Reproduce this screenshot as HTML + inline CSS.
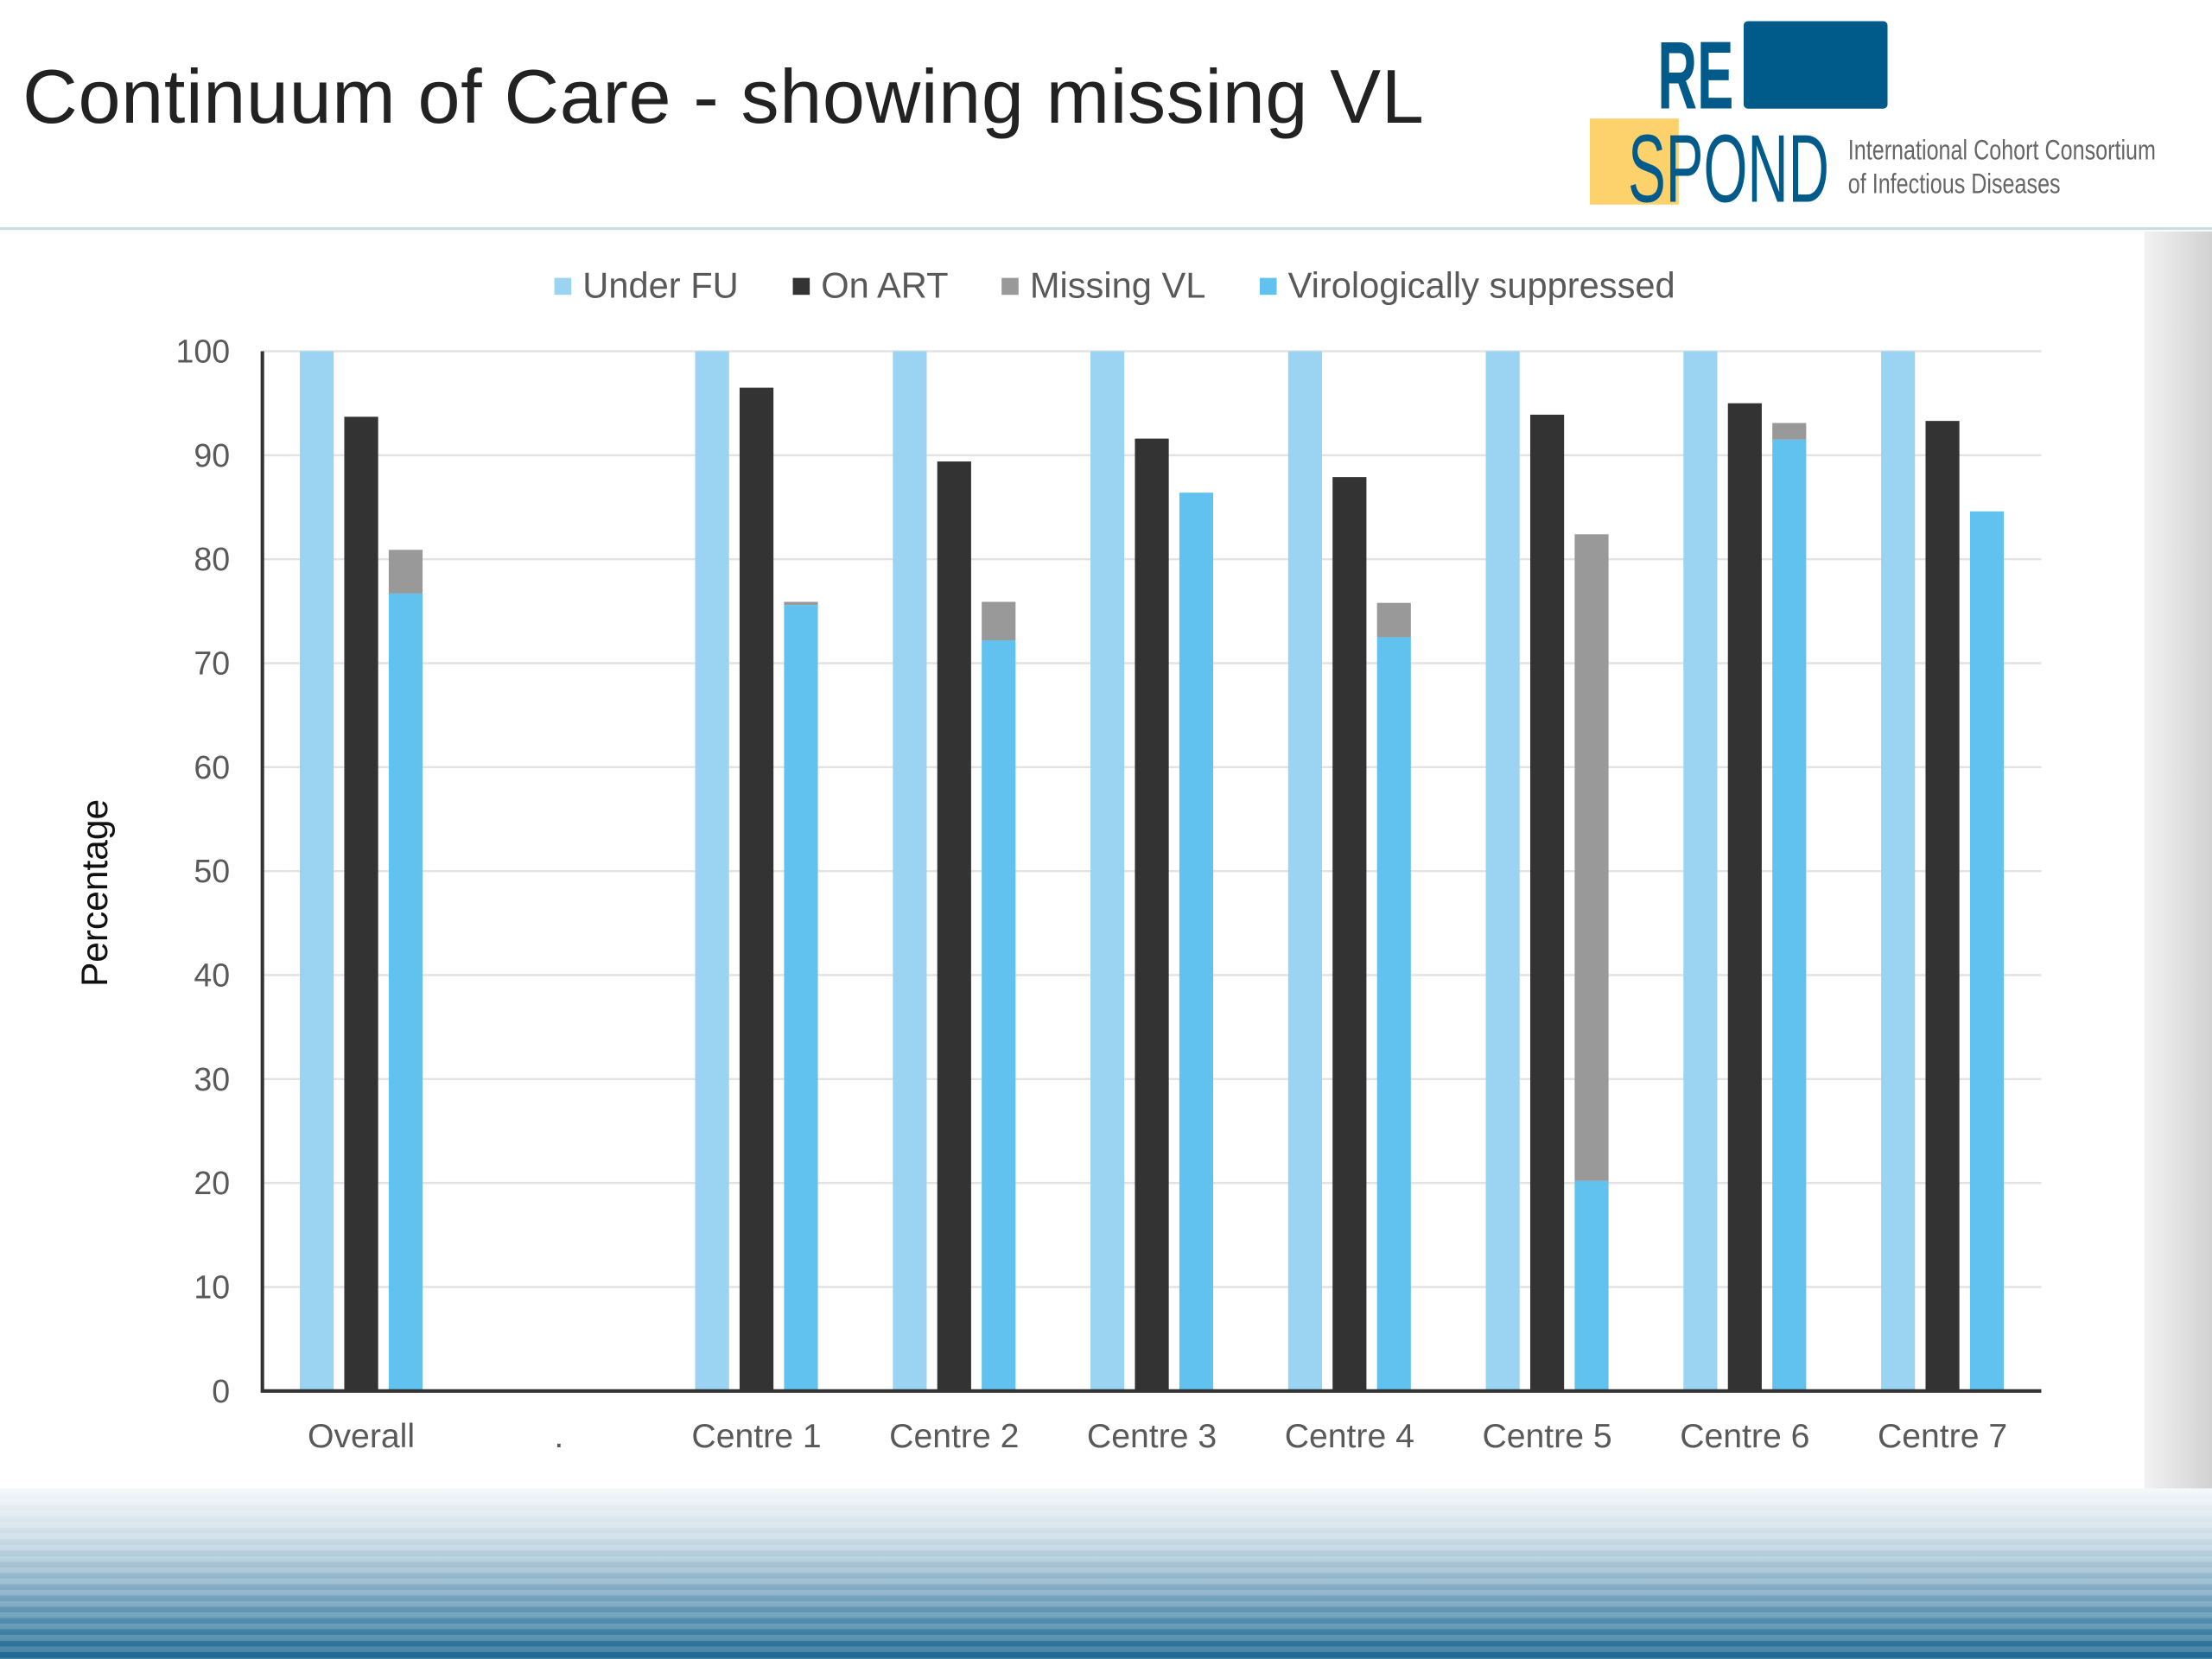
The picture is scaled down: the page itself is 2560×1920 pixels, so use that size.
<!DOCTYPE html>
<html><head><meta charset="utf-8">
<style>
html,body{margin:0;padding:0;background:#fff;overflow:hidden;width:2560px;height:1920px}
#wrap{position:absolute;left:0;top:0;width:1568px;height:1176px;transform:scale(1.632653);transform-origin:0 0;font-family:"Liberation Sans",sans-serif;background:#fff}
#title{position:absolute;left:16px;top:38px;font-size:54px;letter-spacing:0.4px;color:#222;white-space:nowrap}
#hline{position:absolute;left:0;top:161px;width:1568px;height:2px;background:#c9dbe3}
#rstrip{position:absolute;left:1520px;top:164px;width:48px;height:892px;background:linear-gradient(90deg,#f2f2f2,#d2d2d2)}
#band{position:absolute;left:0;top:1055px;width:1568px;height:121px;background:linear-gradient(180deg,#f4f7f9 0%,#c9dbe5 30%,#7fa9c2 60%,#3d7fa3 85%,#1c6690 100%)}
#band:after{content:"";position:absolute;inset:0;background:repeating-linear-gradient(180deg,rgba(255,255,255,0.18) 0 4px,rgba(0,0,0,0) 4px 8px)}
#logo{position:absolute;left:1120px;top:10px;width:440px;height:145px}
</style></head><body>
<div id="wrap">
<div id="title">Continuum of Care - showing missing VL</div>
<svg id="logo" viewBox="1120 10 440 145">
<rect x="1236" y="15" width="102" height="62" rx="3" fill="#005b8a"/>
<text transform="translate(1175,77) scale(0.57,1)" font-family="Liberation Sans,sans-serif" font-weight="bold" font-size="68" fill="#005b8a">RE</text>
<rect x="1127" y="84" width="63" height="61" fill="#fdd16b"/>
<text transform="translate(1154,143) scale(0.59,1)" font-family="Liberation Sans,sans-serif" font-size="68" fill="#005b8a">SPOND</text>
<text transform="translate(1310,113) scale(0.77,1)" font-family="Liberation Sans,sans-serif" font-size="20" fill="#666">International Cohort Consortium</text>
<text transform="translate(1310,137) scale(0.77,1)" font-family="Liberation Sans,sans-serif" font-size="20" fill="#666">of Infectious Diseases</text>
</svg>
<div id="hline"></div>
<div id="rstrip"></div>
<div id="band"></div>
<svg id="chart" style="position:absolute;left:0;top:164px" width="1520" height="892" viewBox="0 164 1520 892"></svg>
</div>
<script>
const categories=["Overall",".","Centre 1","Centre 2","Centre 3","Centre 4","Centre 5","Centre 6","Centre 7"];
const underFU=[100,null,100,100,100,100,100,100,100];
const onART=[93.7,null,96.5,89.4,91.6,87.9,93.9,95.0,93.3];
const virSupp=[76.7,null,75.6,72.2,86.4,72.5,20.2,91.5,84.6];
const missingVL=[4.2,null,0.3,3.7,0,3.3,62.2,1.6,0];
const yTicks=[0,10,20,30,40,50,60,70,80,90,100];
const legendLabels=["Under FU","On ART","Missing VL","Virologically suppressed"];
const legendColors=["#9bd3f3","#333333","#999999","#62c2ef"];

const NS="http://www.w3.org/2000/svg";
const svg=document.getElementById('chart');
const L=186,R=1447,Y0=986,Y100=249;
const y=v=>Y0-(v/100)*(Y0-Y100);
const slot=(R-L)/categories.length;
const xc=i=>L+slot*(i+0.5);
function mk(t,a){const e=document.createElementNS(NS,t);for(const k in a)e.setAttribute(k,a[k]);svg.appendChild(e);return e;}
yTicks.forEach(t=>{
  if(t>0){const g=mk('line',{x1:L,x2:R,y1:y(t),y2:y(t),stroke:'#e3e3e3','stroke-width':1.5});
  
  }
  const tx=mk('text',{x:163,y:y(t)+8,'text-anchor':'end','font-size':23,fill:'#595959','font-family':'Liberation Sans,sans-serif'});
  tx.textContent=t;
  
  
});
const bw=24,gap=7.5;
function bar(x,v0,v1,c,name){if(v1==null||v1-v0<=0)return;const r=mk('rect',{x:x,y:y(v1),width:bw,height:y(v0)-y(v1),fill:c});
  
  }
categories.forEach((c,i)=>{
  const cx=xc(i);
  const x0=cx-bw*1.5-gap;
  bar(x0,0,underFU[i],legendColors[0],'bar-under-fu-'+i);
  bar(x0+bw+gap,0,onART[i],legendColors[1],'bar-on-art-'+i);
  bar(x0+2*(bw+gap),0,virSupp[i],legendColors[3],'bar-vir-supp-'+i);
  if(virSupp[i]!=null)bar(x0+2*(bw+gap),virSupp[i],virSupp[i]+missingVL[i],legendColors[2],'bar-missing-vl-'+i);
  const t=mk('text',{x:cx,y:1026,'text-anchor':'middle','font-size':24,fill:'#595959','font-family':'Liberation Sans,sans-serif'});
  t.textContent=c;
  
  
});
const ax=mk('path',{d:`M${L} ${Y100}V${Y0}H${R}`,stroke:'#333',fill:'none','stroke-width':2.5});


const yt=mk('text',{x:0,y:0,transform:'translate(76,633) rotate(-90)','text-anchor':'middle','font-size':26,fill:'#111','font-family':'Liberation Sans,sans-serif'});
yt.textContent='Percentage';


const lx=[393,562,710,893];
legendLabels.forEach((l,i)=>{
  const s=mk('rect',{x:lx[i],y:197,width:12,height:12,fill:legendColors[i]});
  
  
  const t=mk('text',{x:lx[i]+20,y:211,'font-size':25.5,fill:'#595959','font-family':'Liberation Sans,sans-serif'});
  t.textContent=l;
  
  
});
</script>
</body></html>
